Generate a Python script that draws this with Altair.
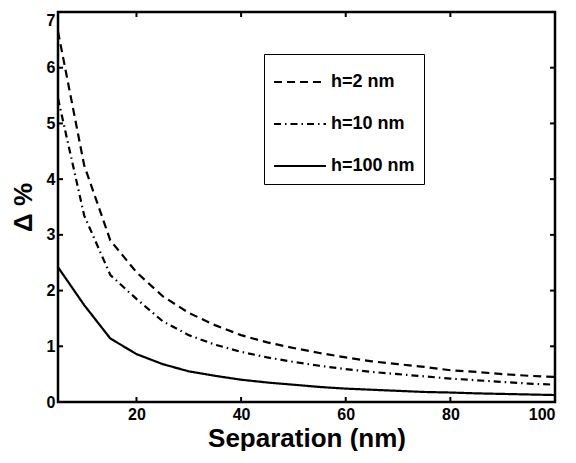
import altair as alt
import pandas as pd

# Data
sep = [5, 10, 15, 20, 25, 30, 35, 40, 45, 50, 55, 60, 65, 70, 75, 80, 85, 90, 95, 100]
h2 = [6.65, 4.25, 2.9, 2.33, 1.9, 1.6, 1.38, 1.2, 1.07, 0.97, 0.88, 0.8, 0.73, 0.68, 0.63, 0.57, 0.54, 0.5, 0.47, 0.45]
h10 = [5.45, 3.35, 2.28, 1.85, 1.45, 1.2, 1.03, 0.9, 0.8, 0.72, 0.65, 0.59, 0.54, 0.5, 0.46, 0.42, 0.39, 0.36, 0.33, 0.31]
h100 = [2.42, 1.74, 1.14, 0.86, 0.68, 0.55, 0.47, 0.4, 0.35, 0.31, 0.27, 0.24, 0.22, 0.2, 0.18, 0.17, 0.155, 0.145, 0.135, 0.125]
series = ["h=2 nm", "h=10 nm", "h=100 nm"]
dashes = [[8, 5], [7, 4, 1.5, 4], [1, 0]]

x_ticks = [20, 40, 60, 80]
y_ticks = [1, 2, 3, 4, 5, 6]

rows = []
for name, vals in zip(series, [h2, h10, h100]):
    for xv, yv in zip(sep, vals):
        rows.append({"sep": xv, "val": yv, "series": name})
df = pd.DataFrame(rows)

W, H = 497, 390
FONT = "Liberation Sans"

xscale = alt.Scale(domain=[5, 100], nice=False, zero=False)
yscale = alt.Scale(domain=[0, 7], nice=False)

lines = alt.Chart(df).mark_line(color="black", strokeWidth=2.2).encode(
    x=alt.X("sep:Q", scale=xscale,
            axis=alt.Axis(values=[20, 40, 60, 80, 100], title="Separation (nm)",
                          tickSize=0, domain=False, grid=False, labelPadding=4,
                          titlePadding=3, format="d")),
    y=alt.Y("val:Q", scale=yscale,
            axis=alt.Axis(values=[0, 1, 2, 3, 4, 5, 6, 7], title="Δ %",
                          tickSize=0, domain=False, grid=False, labelPadding=3,
                          titlePadding=10, format="d",
                          labelBaseline={"expr": "datum.value == 7 ? 'top' : 'middle'"})),
    strokeDash=alt.StrokeDash(
        "series:N", sort=series,
        scale=alt.Scale(domain=series, range=dashes),
        legend=alt.Legend(
            orient="none", legendX=206, legendY=42,
            title="\u00a0" * 76, titleFontSize=10, titlePadding=0, titleLimit=400,
            strokeColor="black", padding=9,
            symbolType="stroke", symbolSize=2704, symbolStrokeWidth=2,
            symbolStrokeColor="black", labelOffset=4,
            labelFont=FONT, labelFontSize=18, labelFontWeight="bold", labelColor="black",
            clipHeight=18, rowPadding=24,
        ),
    ),
)

bt = alt.Chart(pd.DataFrame({"sep": x_ticks})).mark_rule(color="black", strokeWidth=2).encode(
    x=alt.X("sep:Q", scale=xscale), y=alt.value(H), y2=alt.value(H - 5))
tt = alt.Chart(pd.DataFrame({"sep": x_ticks})).mark_rule(color="black", strokeWidth=2).encode(
    x=alt.X("sep:Q", scale=xscale), y=alt.value(0), y2=alt.value(5))
lt = alt.Chart(pd.DataFrame({"val": y_ticks})).mark_rule(color="black", strokeWidth=2).encode(
    y=alt.Y("val:Q", scale=yscale), x=alt.value(0), x2=alt.value(5))
rt = alt.Chart(pd.DataFrame({"val": y_ticks})).mark_rule(color="black", strokeWidth=2).encode(
    y=alt.Y("val:Q", scale=yscale), x=alt.value(W), x2=alt.value(W - 5))

chart = alt.layer(lines, bt, tt, lt, rt).properties(
    width=W, height=H,
    autosize=alt.AutoSizeParams(type="none"),
    padding={"left": 50, "top": 4, "right": 13, "bottom": 49},
    background="white",
).configure_view(
    stroke="black", strokeWidth=2.5
).configure_axis(
    labelFont=FONT, labelFontSize=16, labelFontWeight="bold", labelColor="black",
    titleFont=FONT, titleFontSize=26, titleFontWeight="bold", titleColor="black",
)

chart.save("out.html", embed_options={"renderer": "svg", "actions": False})
